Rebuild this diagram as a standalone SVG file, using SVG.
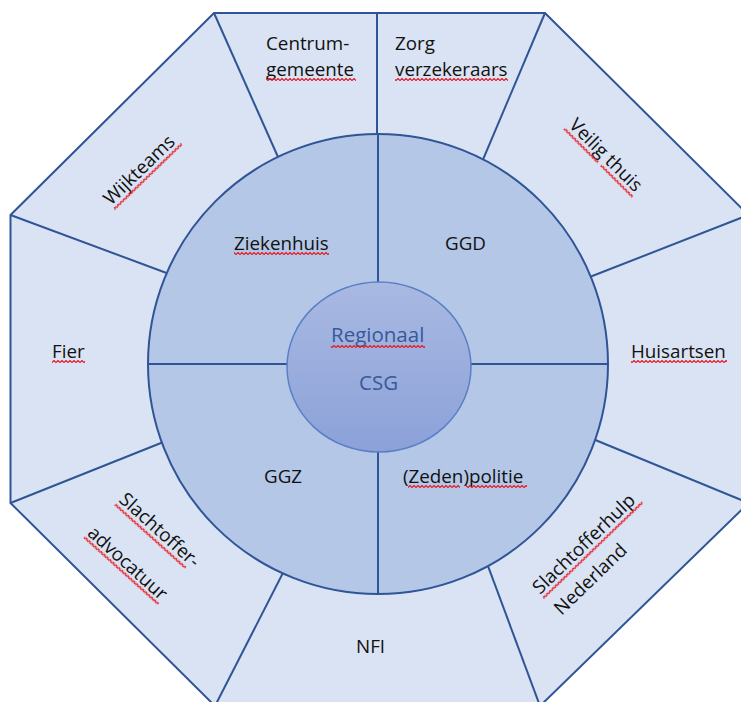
<svg xmlns="http://www.w3.org/2000/svg" width="741" height="702" viewBox="0 0 741 702">
<style>
.t{font-family:"Open Sans","Liberation Sans",sans-serif;font-size:18.8px;fill:#111111}
.c{font-family:"Open Sans","Liberation Sans",sans-serif;font-size:20.5px;fill:#37599a}
.ln{stroke:#2f5597;stroke-width:2;fill:none}
.sq{fill:url(#sq)}
</style>
<defs>
<pattern id="sq" width="4" height="3" patternUnits="userSpaceOnUse">
<path d="M-1 1.5 L0 2.5 L2 0.5 L4 2.5 L5 1.5" stroke="#e8191f" stroke-width="1.2" fill="none"/>
</pattern>
<linearGradient id="g" x1="0" y1="0" x2="0" y2="1">
<stop offset="0" stop-color="#a9b9e2"/>
<stop offset="1" stop-color="#8ba1d8"/>
</linearGradient>
</defs>

<g id="octagon">
<polygon points="214,13 545,13 748.5,215 748.5,503 540,706 215,706 10.5,503 10.5,215" fill="#dae3f3" stroke="#2f5597" stroke-width="2"/>
</g>

<g id="connectors">
<line class="ln" x1="377" y1="13" x2="377" y2="145"/>
<line class="ln" x1="214" y1="13" x2="282" y2="166"/>
<line class="ln" x1="545" y1="13" x2="479" y2="169"/>
<line class="ln" x1="748.5" y1="215" x2="582" y2="280"/>
<line class="ln" x1="748.5" y1="503" x2="588" y2="437"/>
<line class="ln" x1="540" y1="706" x2="484.5" y2="556.6"/>
<line class="ln" x1="215" y1="706" x2="287.5" y2="564"/>
<line class="ln" x1="10.5" y1="503" x2="171" y2="439"/>
<line class="ln" x1="10.5" y1="215" x2="176" y2="276.5"/>
</g>

<g id="ring">
<circle cx="378" cy="364" r="230" fill="#b4c7e7" stroke="#2f5597" stroke-width="2"/>
<line class="ln" x1="378" y1="134" x2="378" y2="594"/>
<line class="ln" x1="148" y1="364" x2="608" y2="364"/>
</g>

<g id="center">
<ellipse cx="379" cy="367" rx="92" ry="85" fill="url(#g)" stroke="#5b7fc6" stroke-width="1.5"/>
<text class="c" x="331" y="342">Regionaal</text>
<rect class="sq" x="331" y="0" width="94" height="3" transform="translate(0,345)"/>
<text class="c" x="359" y="390">CSG</text>
</g>

<g id="node-ziekenhuis">
<text class="t" x="234" y="250">Ziekenhuis</text>
<rect class="sq" x="234" y="0" width="95" height="3" transform="translate(0,252)"/>
</g>
<g id="node-ggd"><text class="t" x="445" y="250">GGD</text></g>
<g id="node-ggz"><text class="t" x="264" y="483">GGZ</text></g>
<g id="node-politie">
<text class="t" x="403" y="483">(Zeden)politie</text>
<rect class="sq" x="408" y="0" width="52" height="3" transform="translate(0,485)"/>
<rect class="sq" x="466" y="0" width="61" height="3" transform="translate(0,485)"/>
</g>

<g id="node-centrumgemeente">
<text class="t" x="266" y="50">Centrum-</text>
<text class="t" x="266" y="76">gemeente</text>
<rect class="sq" x="266" y="0" width="90" height="3" transform="translate(0,78)"/>
</g>
<g id="node-zorgverzekeraars">
<text class="t" x="395" y="50">Zorg</text>
<text class="t" x="395" y="76">verzekeraars</text>
<rect class="sq" x="395" y="0" width="113" height="3" transform="translate(0,78)"/>
</g>
<g id="node-veiligthuis" transform="translate(568,126) rotate(45)">
<text class="t" x="0" y="0">Veilig thuis</text>
<rect class="sq" x="-1" y="3" width="48" height="3"/>
<rect class="sq" x="51" y="3" width="45" height="3"/>
</g>
<g id="node-huisartsen">
<text class="t" x="631" y="358">Huisartsen</text>
<rect class="sq" x="631" y="0" width="96" height="3" transform="translate(0,360)"/>
</g>
<g id="node-slachtofferhulp" transform="translate(540,595) rotate(-44)">
<text class="t" x="0" y="0">Slachtofferhulp</text>
<rect class="sq" x="0" y="3" width="138" height="3"/>
<text class="t" x="1" y="30">Nederland</text>
</g>
<g id="node-nfi"><text class="t" x="356" y="653">NFI</text></g>
<g id="node-slachtofferadvocatuur" transform="translate(118,501) rotate(42)">
<text class="t" x="0" y="0">Slachtoffer-</text>
<rect class="sq" x="0" y="3" width="95" height="3"/>
<text class="t" x="-1" y="46">advocatuur</text>
<rect class="sq" x="-1" y="48" width="100" height="3"/>
</g>
<g id="node-fier">
<text class="t" x="52" y="358">Fier</text>
<rect class="sq" x="52" y="0" width="33" height="3" transform="translate(0,360)"/>
</g>
<g id="node-wijkteams" transform="translate(111,206) rotate(-44)">
<text class="t" x="0" y="0">Wijkteams</text>
<rect class="sq" x="0" y="3" width="94" height="3"/>
</g>
</svg>
